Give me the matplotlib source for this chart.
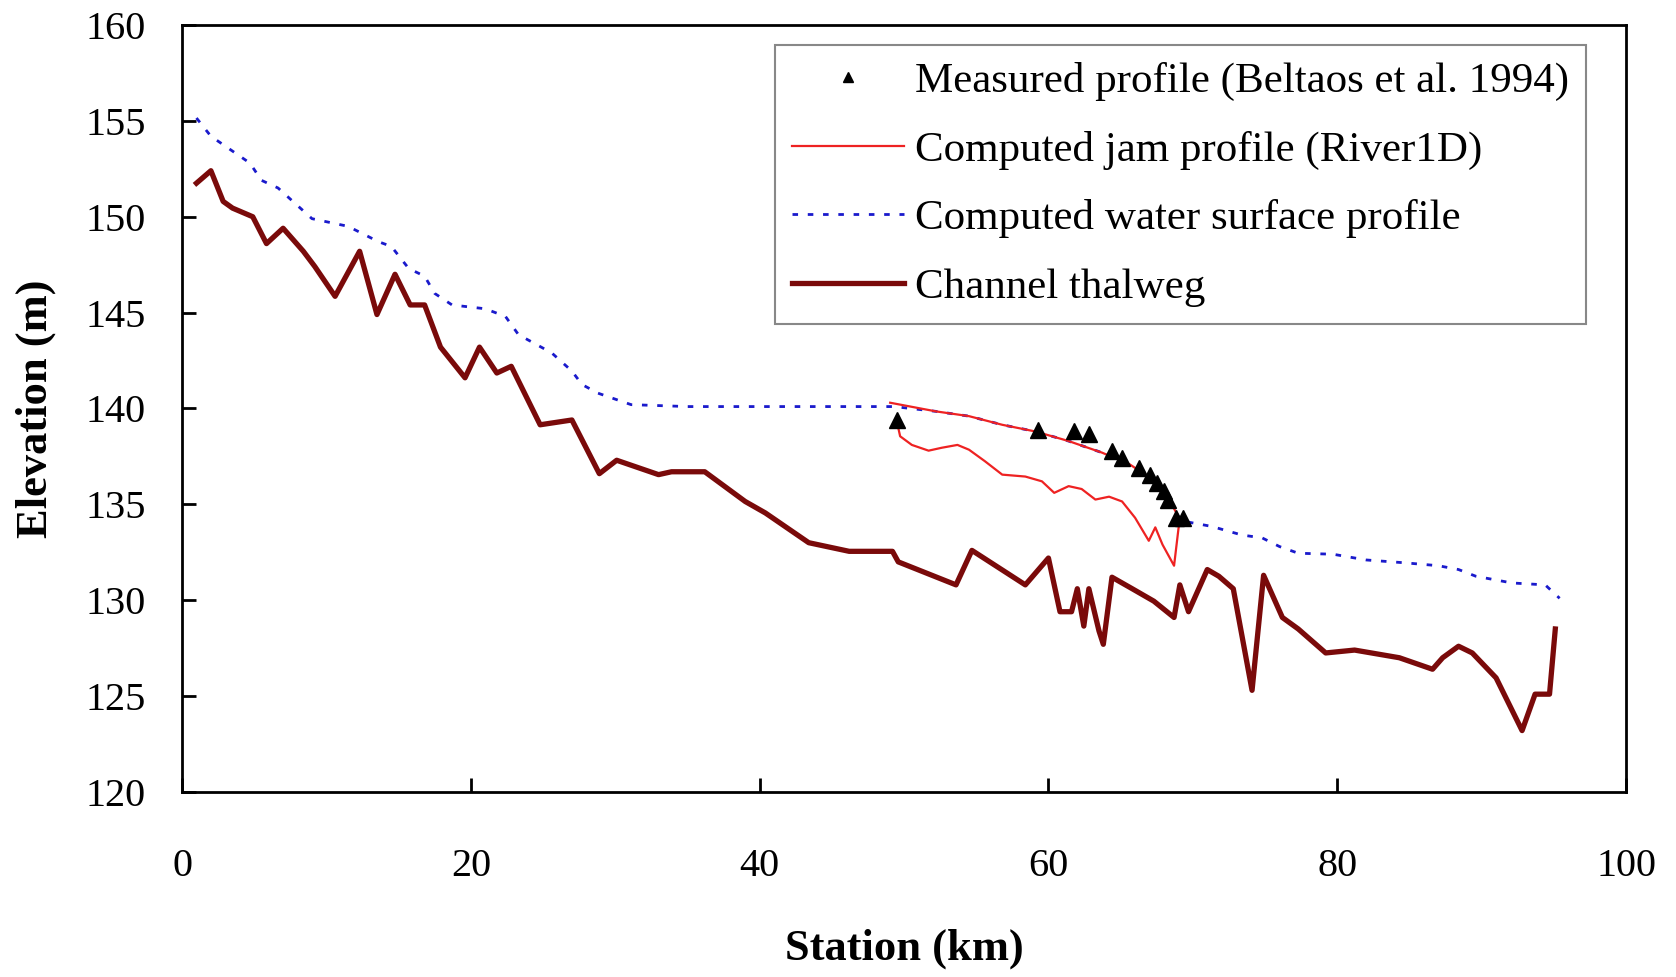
import matplotlib
matplotlib.use("Agg")
import matplotlib.pyplot as plt

plt.rcParams['font.family'] = ['Liberation Serif', 'DejaVu Serif']

# measured profile (Beltaos et al. 1994)
measured_x = [49.5, 59.3, 61.75, 62.8, 64.4, 65.1, 66.25, 67.06, 67.5, 68.0, 68.3, 68.8, 69.3]
measured_y = [139.4, 138.9, 138.8, 138.65, 137.8, 137.4, 136.9, 136.55, 136.1, 135.7, 135.25, 134.3, 134.3]

# computed jam profile: top surface left->right, then underside right->left
jam_x = [49.04, 52.2, 54.5, 56.8, 59.1, 61.4, 63.7, 65.6, 67.2, 68.3, 69.1,
         69.0, 68.7, 67.9, 67.4, 66.95, 66.0, 65.1, 64.2, 63.25, 62.3, 61.4,
         60.4, 59.55, 58.4, 56.8, 55.6, 54.5, 53.7, 52.6, 51.7, 50.54, 49.73, 49.5]
jam_y = [140.3, 139.85, 139.6, 139.15, 138.8, 138.3, 137.7, 137.1, 136.3, 135.35, 134.2,
         133.7, 131.8, 132.9, 133.8, 133.1, 134.3, 135.15, 135.4, 135.25, 135.8, 135.95,
         135.6, 136.2, 136.45, 136.55, 137.25, 137.85, 138.1, 137.95, 137.8, 138.1, 138.55, 139.33]

# computed water surface profile
water_x = [1.0, 2.0, 4.7, 5.5, 6.65, 9.0, 11.5, 13.6, 14.5, 15.7, 16.8, 17.5, 18.7, 21.0,
           22.4, 23.3, 25.6, 27.0, 27.7, 28.8, 31.1, 35.0, 40.0, 45.0, 49.3, 52.2, 54.5,
           56.8, 59.1, 61.4, 63.7, 65.6, 67.2, 68.3, 69.1, 69.5, 71.3, 73.4, 74.8, 76.0,
           77.3, 79.7, 82.0, 84.7, 87.0, 88.4, 89.6, 92.1, 94.4, 95.4]
water_y = [155.15, 154.2, 152.8, 151.9, 151.5, 149.9, 149.5, 148.7, 148.45, 147.3, 146.9,
           146.0, 145.4, 145.2, 144.8, 143.85, 142.9, 141.95, 141.25, 140.8, 140.2, 140.1,
           140.1, 140.1, 140.1, 139.85, 139.6, 139.15, 138.8, 138.3, 137.7, 137.1, 136.3,
           135.35, 134.2, 134.1, 133.85, 133.4, 133.25, 132.8, 132.45, 132.4, 132.1, 131.95,
           131.8, 131.6, 131.25, 130.9, 130.8, 130.1]

# channel thalweg
thalweg_x = [1.0, 2.0, 2.85, 3.5, 4.9, 5.85, 7.0, 8.4, 9.2, 10.6, 12.3, 13.5, 14.75, 15.8,
             16.8, 17.9, 19.6, 20.6, 21.8, 22.8, 24.8, 27.0, 28.9, 30.1, 33.0, 33.9, 36.2,
             39.0, 40.4, 43.4, 46.2, 49.2, 49.6, 53.6, 54.7, 58.4, 60.0, 60.8, 61.6, 62.0,
             62.45, 62.8, 63.5, 63.8, 64.4, 65.8, 67.3, 68.7, 69.1, 69.7, 71.0, 71.8, 72.8,
             74.1, 74.9, 76.2, 77.3, 79.2, 81.2, 84.3, 86.6, 87.3, 88.4, 89.35, 91.0, 92.8,
             93.7, 94.7, 95.1]
thalweg_y = [151.75, 152.4, 150.8, 150.45, 150.0, 148.6, 149.4, 148.2, 147.4, 145.85, 148.2,
             144.9, 147.0, 145.4, 145.4, 143.2, 141.6, 143.2, 141.85, 142.2, 139.15, 139.4,
             136.6, 137.3, 136.55, 136.7, 136.7, 135.15, 134.55, 133.0, 132.55, 132.55, 132.0,
             130.8, 132.6, 130.8, 132.2, 129.4, 129.4, 130.6, 128.65, 130.6, 128.4, 127.7,
             131.2, 130.6, 129.95, 129.1, 130.8, 129.4, 131.6, 131.25, 130.6, 125.3, 131.3,
             129.1, 128.5, 127.25, 127.4, 127.0, 126.4, 127.0, 127.6, 127.25, 125.95, 123.2,
             125.1, 125.1, 128.5]

fig = plt.figure(figsize=(16.76, 9.77), dpi=100)
ax = fig.add_axes([0.1086, 0.1894, 0.8616, 0.785])

ax.plot(water_x, water_y, color='#1a1acc', lw=2.0, linestyle=(0, (2.0, 3.5)),
        label='Computed water surface profile', zorder=2)
ax.plot(thalweg_x, thalweg_y, color='#7a0a0a', lw=3.8,
        label='Channel thalweg', zorder=3)
ax.plot(jam_x, jam_y, color='#ee2222', lw=1.6, label='Computed jam profile (River1D)', zorder=4)
ax.plot(measured_x, measured_y, linestyle='', marker='^', color='black', markersize=11,
        label='Measured profile (Beltaos et al. 1994)', zorder=5)

ax.set_xlim(0, 100)
ax.set_ylim(120, 160)
ax.set_xticks(range(0, 101, 20))
ax.set_yticks(range(120, 161, 5))

for s in ax.spines.values():
    s.set_linewidth(2.0)
ax.tick_params(axis='both', direction='in', length=10, width=2, labelsize=29)
ax.tick_params(axis='y', pad=26)
ax.tick_params(axis='x', pad=40)

ax.set_xlabel('Station (km)', fontsize=32, fontweight='bold')
ax.set_ylabel('Elevation (m)', fontsize=32, fontweight='bold')
ax.xaxis.set_label_coords(0.5, -0.178)
ax.yaxis.set_label_coords(-0.087, 0.5)

handles, labels = ax.get_legend_handles_labels()
order = [3, 2, 0, 1]
leg = ax.legend([handles[i] for i in order], [labels[i] for i in order],
                loc='upper right', bbox_to_anchor=(0.9723, 0.974), borderaxespad=0,
                fontsize=31, numpoints=1, markerscale=0.6, handlelength=2.6,
                handletextpad=0.25, labelspacing=0.68, borderpad=0.4,
                fancybox=False, framealpha=1)
leg.get_frame().set_edgecolor('#888888')
leg.get_frame().set_linewidth(1.5)

fig.savefig('out.png', dpi=100)
